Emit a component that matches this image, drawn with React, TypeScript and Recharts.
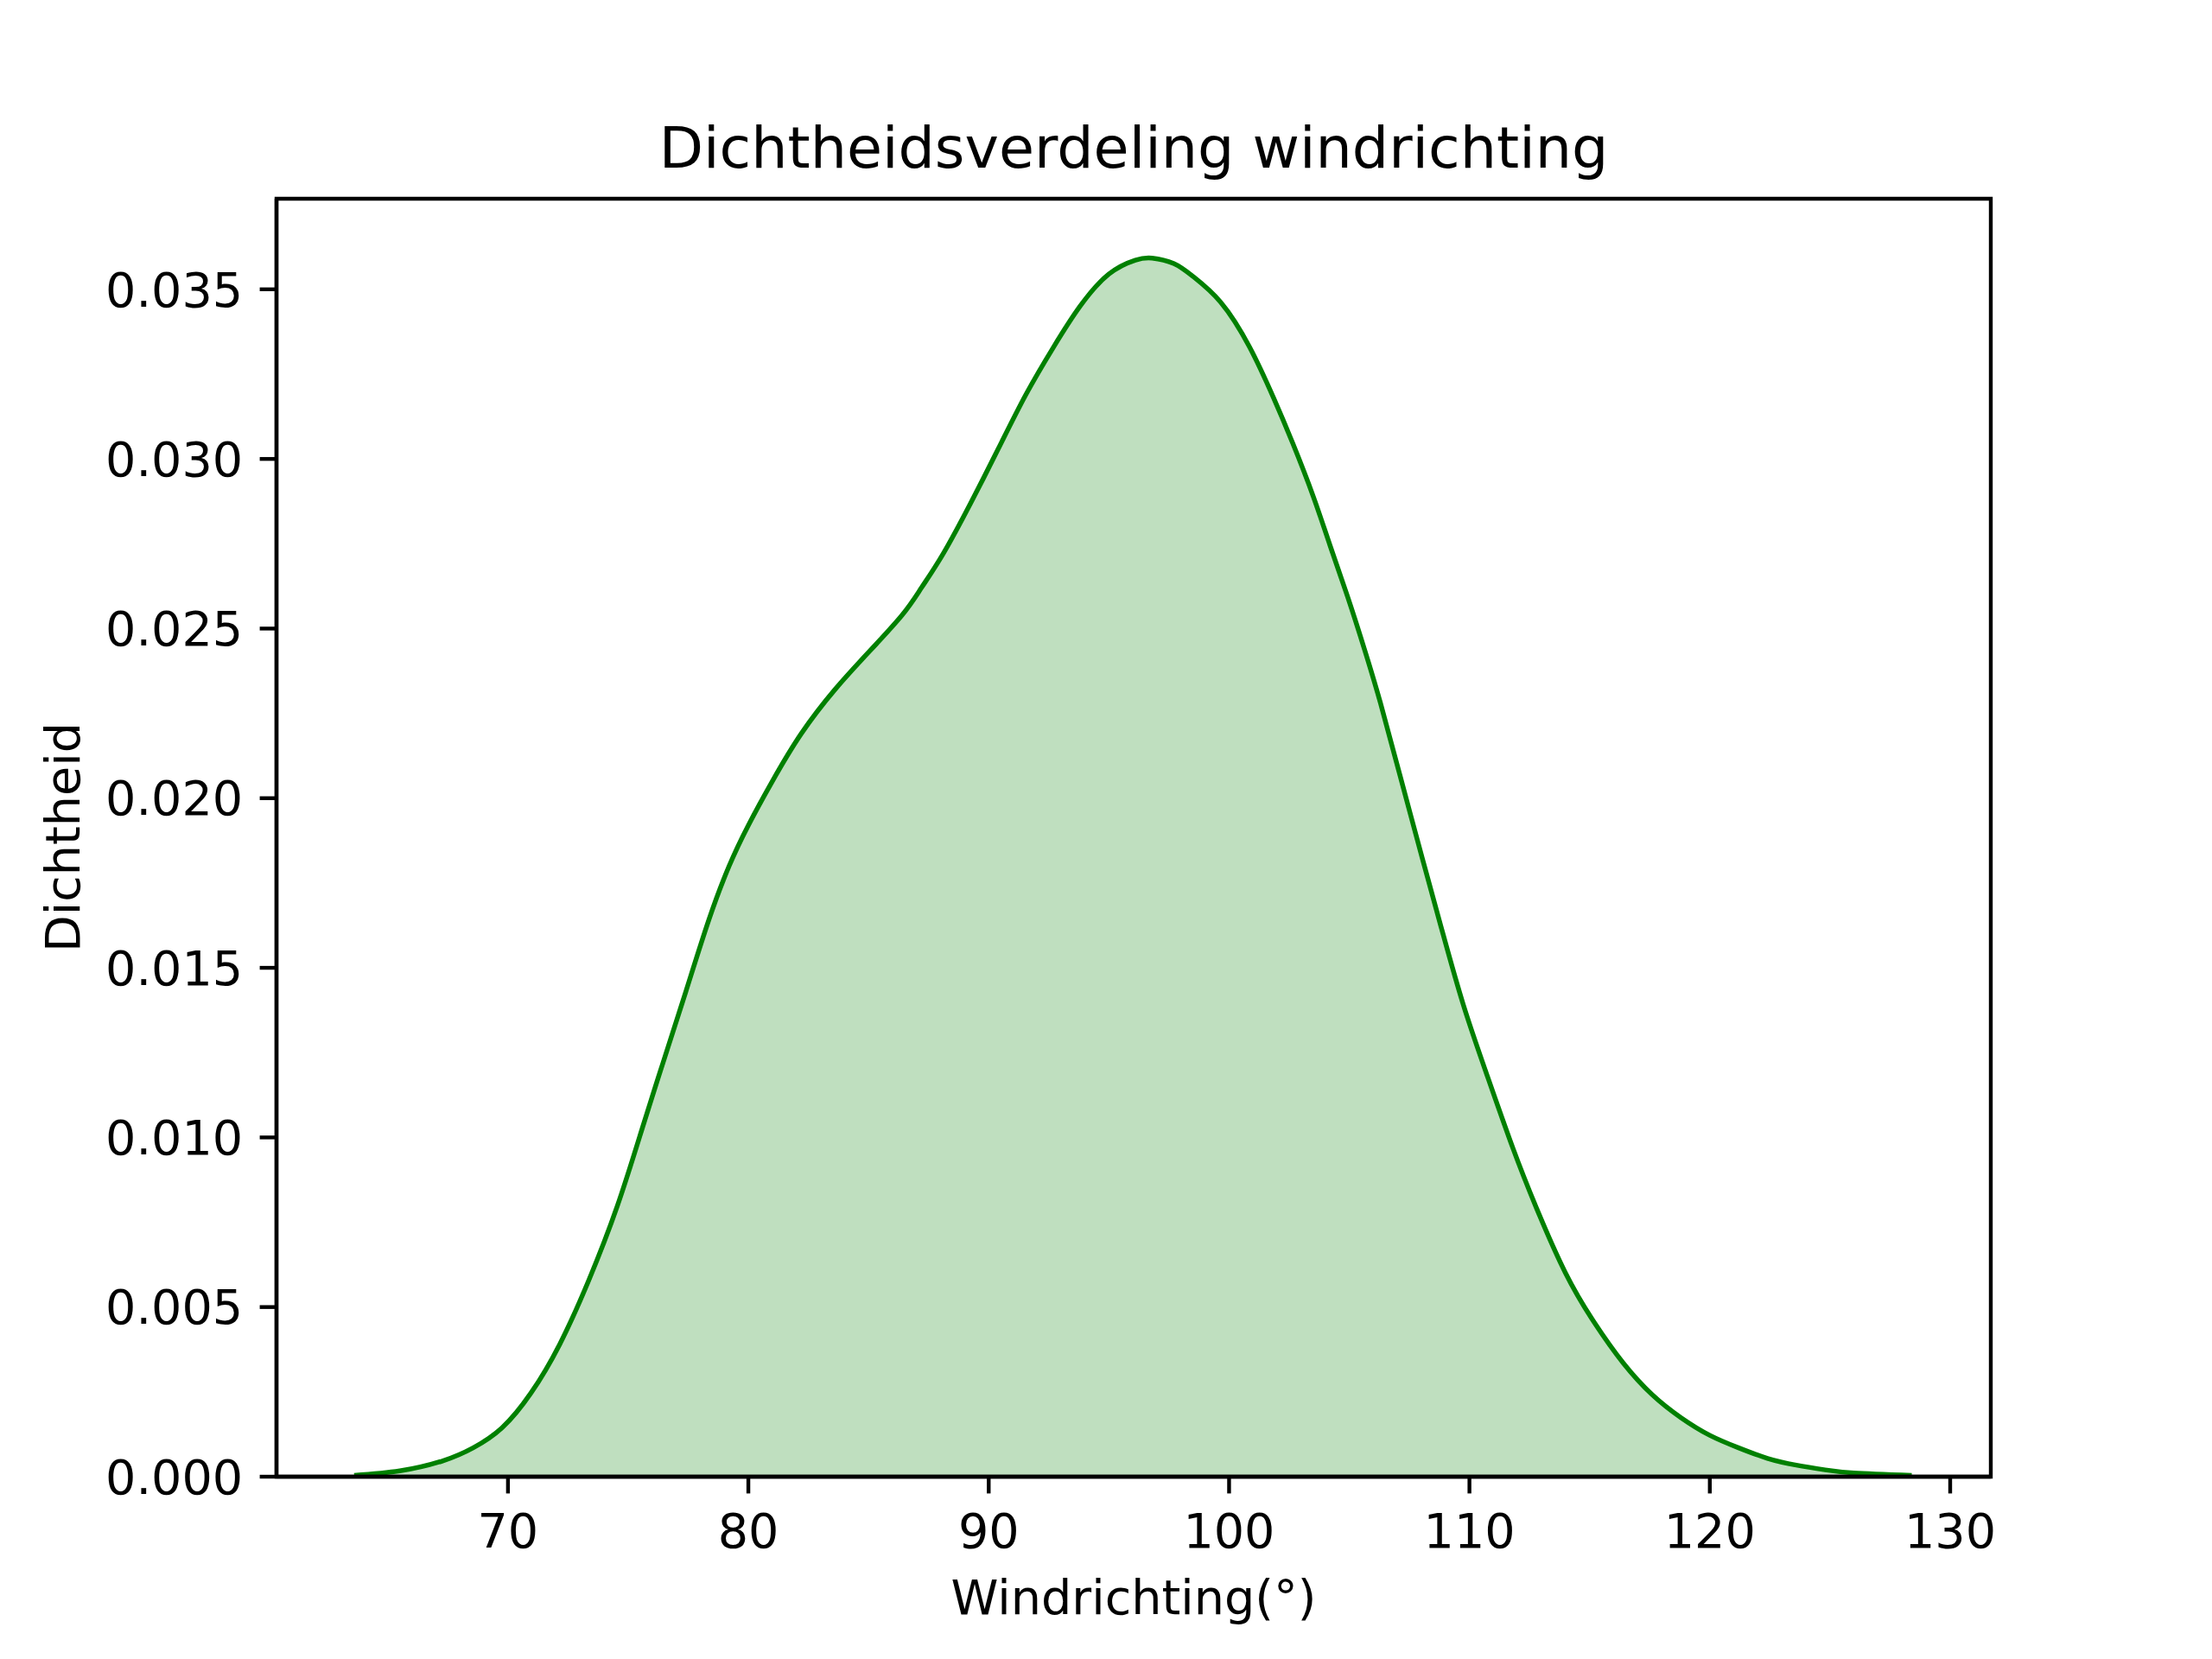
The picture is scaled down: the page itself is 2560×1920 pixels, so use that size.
import React from 'react';
import { AreaChart, Area, XAxis, YAxis, ReferenceArea } from 'recharts';

// Wind direction (degrees) and estimated kernel density
const windDirection = [
  63.6, 65.5, 67.3, 68.55, 69.75, 70.95, 72.15, 73.35, 74.55, 75.6, 76.45, 77.4, 78.35,
  79.2, 80.0, 81.0, 82.2, 83.6, 85.0, 86.4, 87.2, 88.1, 89.25, 90.4, 91.55, 92.7, 93.8,
  95.0, 96.1, 96.8, 97.7, 98.5, 99.65, 100.85, 101.85, 102.65, 103.5, 104.2, 104.95,
  105.65, 106.3, 107.1, 108.05, 108.9, 109.75, 110.7, 111.8, 112.8, 114.0, 115.2, 116.4,
  117.6, 118.8, 120.0, 121.2, 122.4, 123.6, 124.8, 126.0, 128.4,
];
const density = [
  0.00004, 0.00017, 0.00047, 0.00085, 0.00144, 0.00246, 0.0039, 0.00577, 0.00798, 0.0103,
  0.0122, 0.0143, 0.0164, 0.018, 0.0192, 0.0205, 0.0219, 0.0232, 0.0243, 0.0254, 0.0262,
  0.0272, 0.0287, 0.0303, 0.0319, 0.0333, 0.0345, 0.03545, 0.03586, 0.03592, 0.03576,
  0.03538, 0.03462, 0.0333, 0.0318, 0.03046, 0.0289, 0.02745, 0.0259, 0.02435, 0.0228,
  0.0207, 0.0182, 0.016, 0.0139, 0.0119, 0.0097, 0.0079, 0.006, 0.00454, 0.00335,
  0.00242, 0.00174, 0.00122, 0.00085, 0.00054, 0.00034, 0.0002, 0.00011, 0.00004,
];
const xTicks = [70, 80, 90, 100, 110, 120, 130];
const yTicks = [0, 0.005, 0.01, 0.015, 0.02, 0.025, 0.03, 0.035];
const xDomain = [60.37, 131.69];
const yDomain = [0, 0.03767];

const chartTitle = 'Dichtheidsverdeling windrichting';
const xLabel = 'Windrichting(°)';
const yLabel = 'Dichtheid';

const data = windDirection.map((x, i) => ({ x, y: density[i] }));

const FONT = 'DejaVu Sans, sans-serif';
const tickStyle = { fill: '#000', fontSize: 55.6, fontFamily: FONT };
const lineStyle = { stroke: '#000', strokeWidth: 4.4 };

export default function App() {
  return (
    <div style={{ position: 'absolute', left: 0, top: 0, width: 2560, height: 1920, background: '#fff' }}>
      <AreaChart
        width={2560}
        height={1920}
        data={data}
        margin={{ top: 230, right: 256, bottom: 61, left: 20 }}
      >
        <XAxis
          dataKey="x"
          type="number"
          domain={xDomain}
          ticks={xTicks}
          allowDataOverflow
          height={150}
          axisLine={lineStyle}
          tickLine={lineStyle}
          tickSize={19.4}
          tickMargin={23}
          tick={tickStyle}
        />
        <YAxis
          type="number"
          domain={yDomain}
          ticks={yTicks}
          allowDataOverflow
          width={300}
          axisLine={lineStyle}
          tickLine={lineStyle}
          tickSize={19.4}
          tickMargin={19.4}
          tick={tickStyle}
          tickFormatter={(v: number) => v.toFixed(3)}
        />
        <Area
          type="natural"
          dataKey="y"
          stroke="#008000"
          strokeWidth={5.5}
          fill="#008000"
          fillOpacity={0.25}
          dot={false}
          activeDot={false}
          isAnimationActive={false}
        />
        {/* axes frame (top and right spines) */}
        <ReferenceArea
          x1={xDomain[0]}
          x2={xDomain[1]}
          y1={yDomain[0]}
          y2={yDomain[1]}
          fill="none"
          stroke="#000"
          strokeWidth={4.4}
          ifOverflow="visible"
        />
      </AreaChart>

      {/* title and axis labels */}
      <div
        style={{
          position: 'absolute', left: 320, width: 1984, top: 138, lineHeight: '67px',
          fontSize: 66.7, fontFamily: FONT, textAlign: 'center', color: '#000',
        }}
      >
        {chartTitle}
      </div>
      <div
        style={{
          position: 'absolute', left: 320, width: 1984, top: 1821, lineHeight: '56px',
          fontSize: 55.6, fontFamily: FONT, textAlign: 'center', color: '#000',
        }}
      >
        {xLabel}
      </div>
      <div
        style={{
          position: 'absolute', left: 73 - 300, top: 969 - 28, width: 600, lineHeight: '56px',
          fontSize: 55.6, fontFamily: FONT, textAlign: 'center', color: '#000',
          transform: 'rotate(-90deg)', transformOrigin: '300px 28px',
        }}
      >
        {yLabel}
      </div>
    </div>
  );
}
